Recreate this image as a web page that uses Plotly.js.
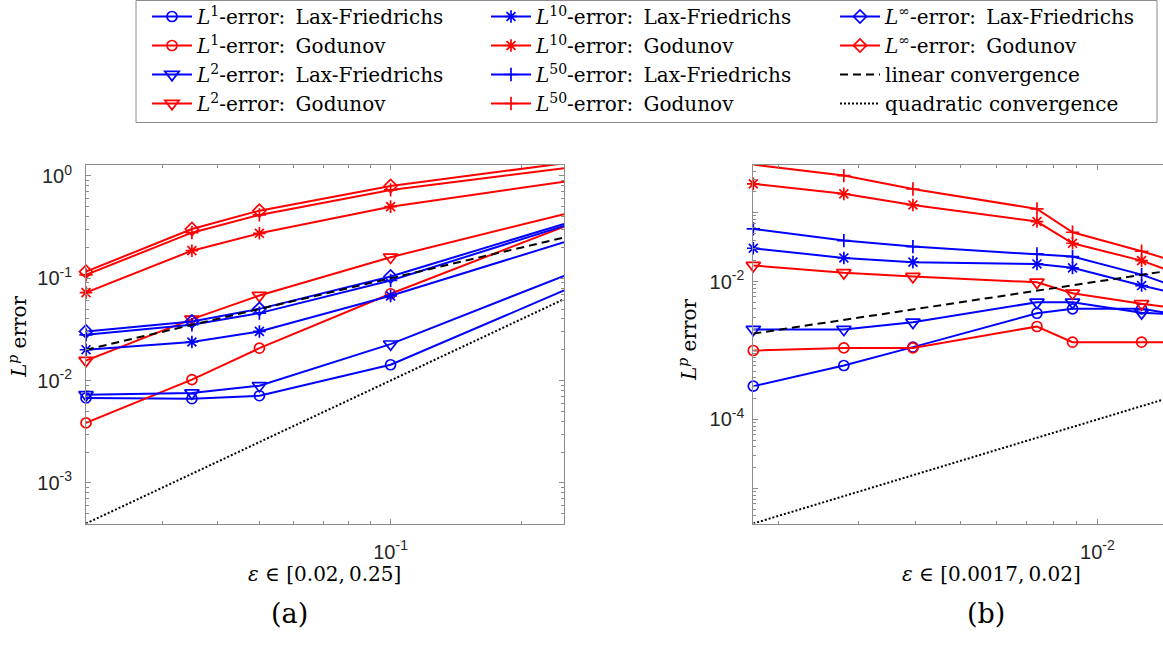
<!DOCTYPE html>
<html><head><meta charset="utf-8">
<script src="https://cdn.plot.ly/plotly-3.0.1.min.js"></script>
<style>html,body{margin:0;padding:0;overflow:hidden;background:#fff}#plot{width:1300px;height:645px}</style>
</head><body><div id="plot"></div>
<script>
// ---------- data ----------
const epsA = [0.02, 0.035, 0.05, 0.1, 0.25];
const A_L1_LF   = [0.00675, 0.00664, 0.0071, 0.01426, 0.0759];
const A_L1_GOD  = [0.00385, 0.0102, 0.0207, 0.0705, 0.32];
const A_L2_LF   = [0.00726, 0.00755, 0.0089, 0.0227, 0.1055];
const A_L2_GOD  = [0.0157, 0.0398, 0.0678, 0.1607, 0.423];
const A_L10_LF  = [0.020, 0.0238, 0.0302, 0.0673, 0.225];
const A_L10_GOD = [0.0724, 0.186, 0.275, 0.501, 0.879];
const A_L50_LF  = [0.028, 0.0351, 0.0456, 0.095, 0.325];
const A_L50_GOD = [0.108, 0.279, 0.416, 0.73, 1.19];
const A_LINF_LF = [0.0302, 0.0378, 0.0502, 0.104, 0.34];
const A_LINF_GOD= [0.116, 0.303, 0.458, 0.798, 1.33];
const A_REF_X   = [0.02, 0.25];
const A_LIN     = [0.02, 0.25];
const A_QUAD    = [0.0004, 0.0625];

const epsB = [0.00176, 0.00278, 0.00394, 0.00737, 0.00882, 0.0125, 0.02];
const B_L1_LF   = [0.000304, 0.000606, 0.00112, 0.00347, 0.00402, 0.00402, 0.00248];
const B_L1_GOD  = [0.001, 0.00109, 0.00109, 0.00223, 0.00132, 0.00132, 0.00132];
const B_L2_LF   = [0.00202, 0.00202, 0.00257, 0.00501, 0.00501, 0.00352, 0.00305];
const B_L2_GOD  = [0.0171, 0.0134, 0.0118, 0.00977, 0.00677, 0.00475, 0.00323];
const B_L10_LF  = [0.0304, 0.0220, 0.0191, 0.0180, 0.0158, 0.00875, 0.0043];
const B_L10_GOD = [0.261, 0.187, 0.129, 0.0742, 0.0359, 0.0201, 0.0065];
const B_L50_LF  = [0.058, 0.0393, 0.0321, 0.0252, 0.0230, 0.0126, 0.0042];
const B_L50_GOD = [0.497, 0.344, 0.220, 0.113, 0.0519, 0.0275, 0.0108];
const B_REF_X   = [0.00176, 0.02];
const B_LIN     = [0.00176, 0.02];
const B_QUAD    = [0.0000031, 0.0004];

const yTickValsA = [0.001, 0.01, 0.1, 1];
const yTickTextA = ['10<sup>-3</sup>', '10<sup>-2</sup>', '10<sup>-1</sup>', '10<sup>0</sup>'];
const yTickValsB = [0.00001, 0.0001, 0.001, 0.01, 0.1];
const yTickTextB = ['', '10<sup>-4</sup>', '', '10<sup>-2</sup>', ''];
const xTickValsA = [0.1];
const xTickTextA = ['10<sup>-1</sup>'];
const xTickValsB = [0.01];
const xTickTextB = ['10<sup>-2</sup>'];

const names = {
  L1LF: '<i>L</i><sup>1</sup>-error:\u2009 Lax-Friedrichs',
  L1G: '<i>L</i><sup>1</sup>-error:\u2009 Godunov',
  L2LF: '<i>L</i><sup>2</sup>-error:\u2009 Lax-Friedrichs',
  L2G: '<i>L</i><sup>2</sup>-error:\u2009 Godunov',
  L10LF: '<i>L</i><sup>10</sup>-error:\u2009 Lax-Friedrichs',
  L10G: '<i>L</i><sup>10</sup>-error:\u2009 Godunov',
  L50LF: '<i>L</i><sup>50</sup>-error:\u2009 Lax-Friedrichs',
  L50G: '<i>L</i><sup>50</sup>-error:\u2009 Godunov',
  LILF: '<i>L</i><sup>\u221e</sup>-error:\u2009 Lax-Friedrichs',
  LIG: '<i>L</i><sup>\u221e</sup>-error:\u2009 Godunov',
  LIN: 'linear convergence',
  QUAD: 'quadratic convergence'
};

// ---------- styles ----------
const W = 1300, H = 645;
const BLUE = '#0000ff', RED = '#ff0000';
const LW = 2;
const sym = {
  circ: {symbol: 'circle-open', size: 10},
  tri: {symbol: 'triangle-down-open', size: 12.5},
  star: {symbol: 'asterisk-open', size: 10.5},
  plus: {symbol: 'cross-thin-open', size: 9.5},
  dia: {symbol: 'diamond-open', size: 10}
};

function series(x, y, color, mk, name, legend, xa, ya, show) {
  return {
    x: x, y: y, type: 'scatter', mode: 'lines+markers', name: name,
    line: {color: color, width: LW},
    marker: {symbol: mk.symbol, size: mk.size, color: color, line: {color: color, width: 1.7}},
    legend: legend, showlegend: show, xaxis: xa, yaxis: ya, cliponaxis: false, hoverinfo: 'skip'
  };
}
function refline(x, y, dash, name, legend, xa, ya, show) {
  return {
    x: x, y: y, type: 'scatter', mode: 'lines', name: name,
    line: {color: '#000', width: 2, dash: dash},
    legend: legend, showlegend: show, xaxis: xa, yaxis: ya, hoverinfo: 'skip'
  };
}
const DASH = '8px,5px', DOT = '2px,2px';

const traces = [
  series(epsA, A_L1_LF, BLUE, sym.circ, names.L1LF, 'legend', 'x', 'y', true),
  series(epsA, A_L1_GOD, RED, sym.circ, names.L1G, 'legend', 'x', 'y', true),
  series(epsA, A_L2_LF, BLUE, sym.tri, names.L2LF, 'legend', 'x', 'y', true),
  series(epsA, A_L2_GOD, RED, sym.tri, names.L2G, 'legend', 'x', 'y', true),
  series(epsA, A_L10_LF, BLUE, sym.star, names.L10LF, 'legend2', 'x', 'y', true),
  series(epsA, A_L10_GOD, RED, sym.star, names.L10G, 'legend2', 'x', 'y', true),
  series(epsA, A_L50_LF, BLUE, sym.plus, names.L50LF, 'legend2', 'x', 'y', true),
  series(epsA, A_L50_GOD, RED, sym.plus, names.L50G, 'legend2', 'x', 'y', true),
  series(epsA, A_LINF_LF, BLUE, sym.dia, names.LILF, 'legend3', 'x', 'y', true),
  series(epsA, A_LINF_GOD, RED, sym.dia, names.LIG, 'legend3', 'x', 'y', true),
  refline(A_REF_X, A_LIN, DASH, names.LIN, 'legend3', 'x', 'y', true),
  refline(A_REF_X, A_QUAD, DOT, names.QUAD, 'legend3', 'x', 'y', true),

  series(epsB, B_L1_LF, BLUE, sym.circ, names.L1LF, 'legend', 'x2', 'y2', false),
  series(epsB, B_L1_GOD, RED, sym.circ, names.L1G, 'legend', 'x2', 'y2', false),
  series(epsB, B_L2_LF, BLUE, sym.tri, names.L2LF, 'legend', 'x2', 'y2', false),
  series(epsB, B_L2_GOD, RED, sym.tri, names.L2G, 'legend', 'x2', 'y2', false),
  series(epsB, B_L10_LF, BLUE, sym.star, names.L10LF, 'legend', 'x2', 'y2', false),
  series(epsB, B_L10_GOD, RED, sym.star, names.L10G, 'legend', 'x2', 'y2', false),
  series(epsB, B_L50_LF, BLUE, sym.plus, names.L50LF, 'legend', 'x2', 'y2', false),
  series(epsB, B_L50_GOD, RED, sym.plus, names.L50G, 'legend', 'x2', 'y2', false),
  refline(B_REF_X, B_LIN, DASH, names.LIN, 'legend', 'x2', 'y2', false),
  refline(B_REF_X, B_QUAD, DOT, names.QUAD, 'legend', 'x2', 'y2', false)
];

const AXC = '#8c8c8c';
const TICKFONT = {family: 'Liberation Sans, Arial, sans-serif', size: 20, color: '#262626'};
function axis(extra) {
  return Object.assign({
    type: 'log', showline: true, linecolor: AXC, linewidth: 1, mirror: 'ticks',
    ticks: 'inside', ticklen: 5, tickcolor: AXC, tickwidth: 1,
    showgrid: false, zeroline: false, tickmode: 'array', fixedrange: true,
    tickfont: TICKFONT,
    minor: {ticks: 'inside', ticklen: 3, tickcolor: AXC, tickwidth: 1, dtick: 'D1', showgrid: false}
  }, extra);
}
const px = v => v / W, py = v => 1 - v / H;

const serif = 'DejaVu Serif, Liberation Serif, serif';
const legendBase = {
  orientation: 'v', xref: 'paper', yref: 'paper', xanchor: 'left', yanchor: 'top',
  bgcolor: 'rgba(0,0,0,0)', borderwidth: 0, itemwidth: 40, tracegroupgap: 0,
  font: {family: serif, size: 20, color: '#000'}, itemclick: false, itemdoubleclick: false
};
function note(text, x, y, size, angle) {
  return {text: text, xref: 'paper', yref: 'paper', x: px(x), y: py(y), xanchor: 'center', yanchor: 'middle',
    textangle: angle || 0, showarrow: false, font: {family: serif, size: size, color: '#000'}};
}

const layout = {
  width: W, height: H,
  margin: {l: 0, r: 0, t: 0, b: 0, autoexpand: false},
  paper_bgcolor: '#fff', plot_bgcolor: '#fff',
  showlegend: true,
  legend: Object.assign({}, legendBase, {x: px(147), y: py(-3)}),
  legend2: Object.assign({}, legendBase, {x: px(486), y: py(-3)}),
  legend3: Object.assign({}, legendBase, {x: px(835), y: py(-3)}),
  xaxis: axis({domain: [px(86), px(564)], range: [Math.log10(0.02), Math.log10(0.25)], anchor: 'y',
    tickvals: xTickValsA, ticktext: xTickTextA, ticklabelstandoff: 10}),
  yaxis: axis({domain: [py(523.5), py(165)], range: [Math.log10(0.0004), Math.log10(1.28)], anchor: 'x',
    tickvals: yTickValsA, ticktext: yTickTextA, ticklabelstandoff: 9}),
  xaxis2: axis({domain: [px(753.3), px(1234.7)], range: [Math.log10(0.00176), Math.log10(0.02)], anchor: 'y2',
    tickvals: xTickValsB, ticktext: xTickTextB, ticklabelstandoff: 10}),
  yaxis2: axis({domain: [py(523.5), py(165)], range: [Math.log10(0.0000031), Math.log10(0.49)], anchor: 'x2',
    tickvals: yTickValsB, ticktext: yTickTextB, ticklabelstandoff: 4}),
  shapes: [{type: 'rect', xref: 'paper', yref: 'paper', x0: px(136), x1: px(1157), y0: py(122.5), y1: py(0.5),
    line: {color: '#8c8c8c', width: 1}, fillcolor: 'rgba(0,0,0,0)'}],
  annotations: [
    note('<i>L</i><sup><i>p</i></sup> error', 18, 337, 20, -90),
    note('<i>L</i><sup><i>p</i></sup> error', 688, 340, 20, -90),
    note('<i>\u03b5</i> \u2208 [0.02,\u20090.25]', 324, 574, 20),
    note('<i>\u03b5</i> \u2208 [0.0017,\u20090.02]', 991, 574, 20),
    note('(a)', 289, 613, 27),
    note('(b)', 986, 613, 27)
  ]
};

Plotly.newPlot('plot', traces, layout, {staticPlot: true, displayModeBar: false});
</script></body></html>
